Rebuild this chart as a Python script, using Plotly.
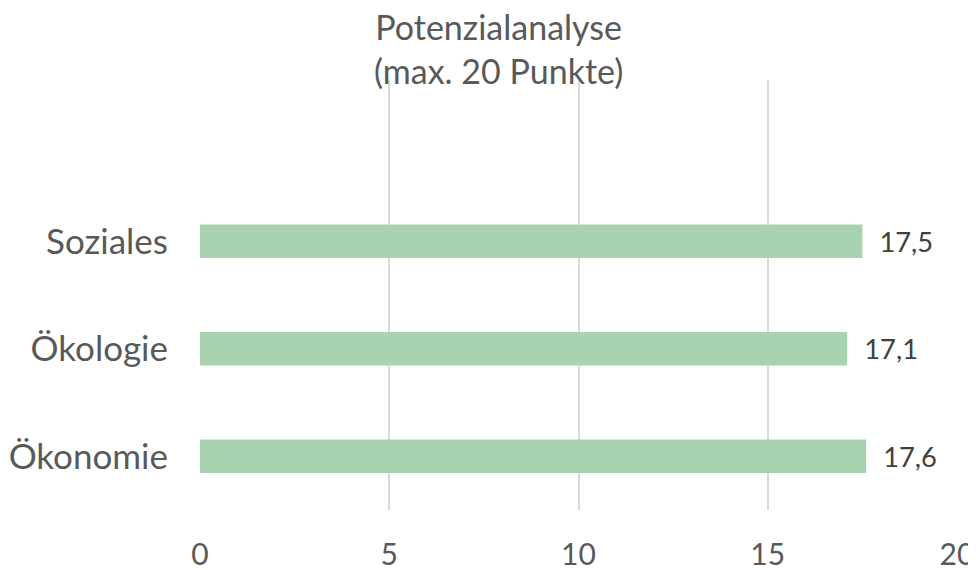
import plotly.graph_objects as go

categories = ["Ökonomie", "Ökologie", "Soziales"]
values = [17.6, 17.1, 17.5]
x_ticks = [0, 5, 10, 15, 20]
title_text = "Potenzialanalyse<br>(max. 20 Punkte)"

fig = go.Figure(
    go.Bar(
        y=categories,
        x=values,
        orientation="h",
        marker=dict(color="#A9D3B0", line=dict(width=0)),
        texttemplate="\u00a0\u00a0%{x:.1f}",
        textposition="outside",
        textfont=dict(family="Lato", size=32, color="#404040"),
        cliponaxis=False,
    )
)

fig.add_annotation(
    text=title_text,
    xref="paper",
    yref="paper",
    x=0.394,
    y=1.176,
    xanchor="center",
    yanchor="top",
    showarrow=False,
    font=dict(family="Lato", size=34, color="#595959"),
)

fig.update_layout(
    width=976,
    height=570,
    margin=dict(l=192, r=27, t=72, b=68, autoexpand=False),
    paper_bgcolor="white",
    plot_bgcolor="white",
    separators=",.",
    bargap=0.69,
    showlegend=False,
    font=dict(family="Lato", color="#595959"),
    xaxis=dict(
        range=[0, 20],
        tickvals=x_ticks,
        showgrid=True,
        gridcolor="#D9D9D9",
        gridwidth=2,
        zeroline=False,
        showline=False,
        ticks="",
        automargin=False,
        ticklabelstandoff=24,
        tickfont=dict(family="Lato", size=30, color="#595959"),
    ),
    yaxis=dict(
        type="category",
        range=[-0.5, 3.5],
        showgrid=False,
        zeroline=False,
        showline=False,
        ticks="",
        automargin=False,
        ticklabelstandoff=31,
        tickfont=dict(family="Lato", size=35, color="#595959"),
    ),
)

fig.write_html("out.html")
